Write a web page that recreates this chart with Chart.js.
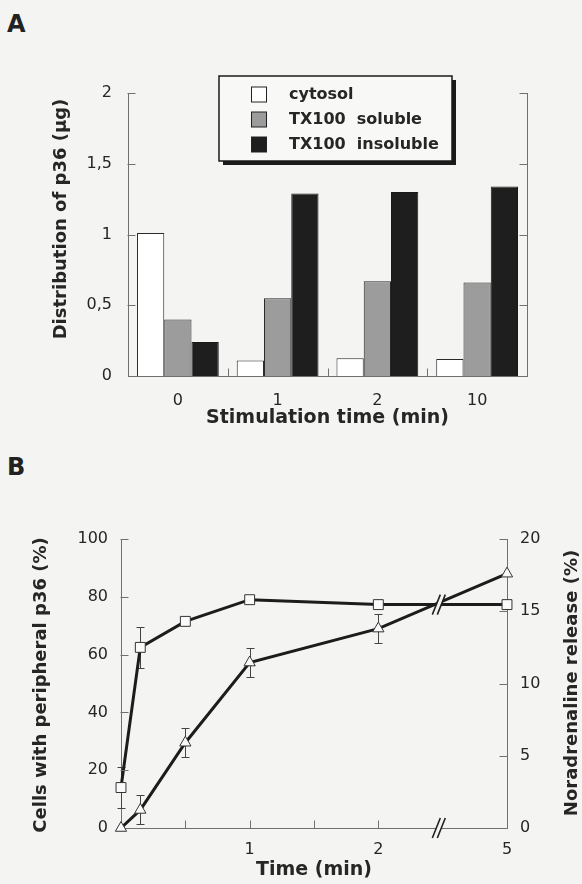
<!DOCTYPE html>
<html>
<head>
<meta charset="utf-8">
<script src="https://cdn.jsdelivr.net/npm/chart.js@4/dist/chart.umd.min.js"></script>
<style>
  html, body { margin: 0; padding: 0; width: 582px; height: 884px; overflow: hidden; background: #f4f4f2; }
  .tag { position: absolute; font-family: 'DejaVu Sans', sans-serif; font-weight: bold; font-size: 24px; line-height: 24px; color: #222; }
  canvas { position: absolute; left: 0; }
</style>
</head>
<body>
<div class="tag" style="left:7px;top:12px">A</div>
<div class="tag" style="left:7px;top:455px">B</div>
<canvas id="chartA" width="582" height="440" style="top:0"></canvas>
<canvas id="chartB" width="582" height="444" style="top:440px"></canvas>
<script>
// ---------- Panel A data ----------
const stimCategories = ['0', '1', '2', '10'];
const cytosol = [1.01, 0.11, 0.125, 0.12];
const txSoluble = [0.40, 0.55, 0.67, 0.66];
const txInsoluble = [0.24, 1.29, 1.30, 1.34];
const seriesLabelsA = ['cytosol', 'TX100  soluble', 'TX100  insoluble'];
const yTicksA = [0.5, 1, 1.5, 2];

// ---------- Panel B data ----------
const timeMin = [0, 0.15, 0.5, 1, 2, 5];
const cellsPeripheral = [14, 62.5, 71.5, 79, 77.3, 77.3];
const cellsErr = [7, 7, 0, 0, 1, 1.5];
const noradRelease = [0, 1.25, 5.9, 11.45, 13.8, 17.6];
const noradErr = [0, 1.0, 1.0, 1.0, 1.0, 0];
const timeTickLabels = ['1', '2', '5'];
const timeTickValues = [1, 2, 5];
const timeMinorTicks = [0.5, 1, 1.5, 2];
const leftTicksB = [20, 40, 60, 80, 100];
const rightTicksB = [5, 10, 15, 20];

// broken time axis: 0..2 min linear, 2..5 min compressed into one unit
const axisPos = t => (t <= 2 ? t : 2 + (t - 2) / 3);
const breakPos = 2.47;

const BG = '#f4f4f2';
const TEXT = '#262626';
const AXIS = '#707070';
const FONT = "'DejaVu Sans', sans-serif";
Chart.defaults.font.family = FONT;
Chart.defaults.color = TEXT;

function makeInnerTicks(items) {
  return {
    id: 'innerTicks',
    afterDraw(chart) {
      const ctx = chart.ctx;
      ctx.save();
      ctx.strokeStyle = AXIS;
      ctx.lineWidth = 1;
      items.forEach(item => {
        const s = chart.scales[item.scale];
        let pixels = [];
        if (item.between) {
          for (let i = 0; i < s.ticks.length - 1; i++) pixels.push((s.getPixelForTick(i) + s.getPixelForTick(i + 1)) / 2);
        } else {
          pixels = item.values.map(v => s.getPixelForValue(v));
        }
        ctx.beginPath();
        pixels.forEach(p => {
          const q = Math.round(p) + 0.5;
          if (s.position === 'left') {
            const x = Math.round(s.right) - 0.5;
            ctx.moveTo(x, q); ctx.lineTo(x + item.length, q);
          } else if (s.position === 'right') {
            const x = Math.round(s.left) + 0.5;
            ctx.moveTo(x, q); ctx.lineTo(x - item.length, q);
          } else {
            const y = Math.round(s.top) + 0.5;
            ctx.moveTo(q, y); ctx.lineTo(q, y - item.length);
          }
        });
        ctx.stroke();
      });
      ctx.restore();
    }
  };
}

function makeSideTitles(items) {
  return {
    id: 'sideTitles',
    afterDraw(chart) {
      const ctx = chart.ctx;
      items.forEach(it => {
        ctx.save();
        ctx.translate(it.x, it.y);
        ctx.rotate(-Math.PI / 2);
        ctx.font = it.font;
        ctx.fillStyle = TEXT;
        ctx.textAlign = 'center';
        ctx.textBaseline = 'middle';
        ctx.fillText(it.text, 0, 0);
        ctx.restore();
      });
    }
  };
}

const boxLegend = {
  id: 'boxLegend',
  afterDraw(chart) {
    const ctx = chart.ctx;
    const bx = 219, by = 76, bw = 233, bh = 85;
    ctx.save();
    ctx.fillStyle = '#1a1a1a';
    ctx.fillRect(bx + 4, by + 4, bw, bh);
    ctx.fillStyle = '#f8f8f6';
    ctx.fillRect(bx, by, bw, bh);
    ctx.strokeStyle = '#1a1a1a';
    ctx.lineWidth = 1.5;
    ctx.strokeRect(bx, by, bw, bh);
    ctx.font = "bold 16px " + FONT;
    ctx.textBaseline = 'middle';
    chart.data.datasets.forEach((ds, i) => {
      const cy = 95 + i * 25;
      ctx.fillStyle = ds.backgroundColor;
      ctx.fillRect(251.5, cy - 8, 15, 15);
      ctx.strokeStyle = '#222';
      ctx.lineWidth = 1;
      ctx.strokeRect(251.5, cy - 8, 15, 15);
      ctx.fillStyle = TEXT;
      ctx.fillText(ds.label, 289, cy);
    });
    ctx.restore();
  }
};

const tickFont = { family: FONT, size: 16 };
const titleFont = { family: FONT, size: 19, weight: 'bold' };
const noGrid = { display: false, drawTicks: false, tickLength: 0 };

// ---------------- Chart A ----------------
new Chart(document.getElementById('chartA'), {
  type: 'bar',
  data: {
    labels: stimCategories,
    datasets: [
      { label: seriesLabelsA[0], data: cytosol, backgroundColor: '#ffffff', borderColor: '#2a2a2a', borderWidth: 1 },
      { label: seriesLabelsA[1], data: txSoluble, backgroundColor: '#9c9c9c', borderColor: '#2a2a2a', borderWidth: 1 },
      { label: seriesLabelsA[2], data: txInsoluble, backgroundColor: '#1e1e1e', borderColor: '#1a1a1a', borderWidth: 1 }
    ]
  },
  options: {
    responsive: false,
    animation: false,
    devicePixelRatio: 1,
    layout: { padding: { top: 93, left: 0, right: 0, bottom: 0 } },
    datasets: { bar: { categoryPercentage: 0.82, barPercentage: 1.0 } },
    plugins: { legend: { display: false }, title: { display: false }, tooltip: { enabled: false } },
    scales: {
      x: {
        grid: noGrid,
        border: { display: true, color: AXIS, width: 1 },
        ticks: { font: tickFont, color: TEXT, padding: 15 },
        title: { display: true, text: 'Stimulation time (min)', font: titleFont, color: TEXT, padding: { top: 0, bottom: 10.6 } },
        afterFit: s => { s.height = 64; }
      },
      y: {
        position: 'left', min: 0, max: 2,
        grid: noGrid,
        border: { display: true, color: AXIS, width: 1 },
        ticks: { stepSize: 0.5, font: tickFont, color: TEXT, padding: 16, callback: v => String(v).replace('.', ',') },
        afterFit: s => { s.width = 128; }
      },
      y2: {
        position: 'right', min: 0, max: 2,
        grid: noGrid,
        border: { display: true, color: AXIS, width: 1 },
        ticks: { display: false },
        afterFit: s => { s.width = 55; }
      }
    }
  },
  plugins: [
    makeInnerTicks([
      { scale: 'y', values: yTicksA, length: 8 },
      { scale: 'y2', values: yTicksA, length: 8 },
      { scale: 'x', between: true, length: 8 }
    ]),
    makeSideTitles([{ text: 'Distribution of p36 (μg)', x: 61, y: 219, font: 'bold 18px ' + FONT }]),
    boxLegend
  ]
});

// ---------------- Chart B ----------------
const errorBars = {
  id: 'errorBars',
  beforeDatasetsDraw(chart) {
    const ctx = chart.ctx;
    ctx.save();
    ctx.strokeStyle = '#444';
    ctx.lineWidth = 1;
    chart.data.datasets.forEach((ds, di) => {
      if (!ds.errors) return;
      const meta = chart.getDatasetMeta(di);
      const ys = chart.scales[ds.yAxisID];
      meta.data.forEach((pt, i) => {
        const e = ds.errors[i];
        if (!e) return;
        const v = ds.data[i].y;
        const top = Math.round(ys.getPixelForValue(v + e)) + 0.5;
        const bot = Math.round(ys.getPixelForValue(v - e)) + 0.5;
        const x = Math.round(pt.x) + 0.5;
        ctx.beginPath();
        ctx.moveTo(x, top); ctx.lineTo(x, bot);
        ctx.moveTo(x - 4, top); ctx.lineTo(x + 4, top);
        ctx.moveTo(x - 4, bot); ctx.lineTo(x + 4, bot);
        ctx.stroke();
      });
    });
    ctx.restore();
  }
};

function drawBreak(ctx, cx, cy) {
  const hx = 4, hy = 10, gap = 5;
  ctx.save();
  ctx.fillStyle = BG;
  ctx.beginPath();
  ctx.moveTo(cx - gap / 2 - hx, cy + hy);
  ctx.lineTo(cx - gap / 2 + hx, cy - hy);
  ctx.lineTo(cx + gap / 2 + hx, cy - hy);
  ctx.lineTo(cx + gap / 2 - hx, cy + hy);
  ctx.closePath();
  ctx.fill();
  ctx.strokeStyle = '#222';
  ctx.lineWidth = 1.6;
  ctx.beginPath();
  ctx.moveTo(cx - gap / 2 - hx, cy + hy); ctx.lineTo(cx - gap / 2 + hx, cy - hy);
  ctx.moveTo(cx + gap / 2 - hx, cy + hy); ctx.lineTo(cx + gap / 2 + hx, cy - hy);
  ctx.stroke();
  ctx.restore();
}

const axisBreaks = {
  id: 'axisBreaks',
  afterDraw(chart) {
    const xs = chart.scales.x, ys = chart.scales.y;
    const cx = xs.getPixelForValue(breakPos);
    drawBreak(chart.ctx, cx, ys.bottom);
    // break on the data lines, at the interpolated value of the 2 -> 5 min segment
    const x0 = axisPos(timeMin[4]), x1 = axisPos(timeMin[5]);
    const f = (breakPos - x0) / (x1 - x0);
    const v = cellsPeripheral[4] + f * (cellsPeripheral[5] - cellsPeripheral[4]);
    drawBreak(chart.ctx, cx, ys.getPixelForValue(v));
  }
};

new Chart(document.getElementById('chartB'), {
  type: 'line',
  data: {
    datasets: [
      {
        label: 'Cells with peripheral p36 (%)',
        data: timeMin.map((t, i) => ({ x: axisPos(t), y: cellsPeripheral[i] })),
        errors: cellsErr,
        yAxisID: 'y',
        borderColor: '#1c1c1c', borderWidth: 3, tension: 0,
        pointStyle: 'rect', pointRadius: 7, pointBackgroundColor: '#fafafa', pointBorderColor: '#333', pointBorderWidth: 1,
        clip: false
      },
      {
        label: 'Noradrenaline release (%)',
        data: timeMin.map((t, i) => ({ x: axisPos(t), y: noradRelease[i] })),
        errors: noradErr,
        yAxisID: 'y2',
        borderColor: '#1c1c1c', borderWidth: 3, tension: 0,
        pointStyle: 'triangle', pointRadius: 6.5, pointBackgroundColor: '#fafafa', pointBorderColor: '#333', pointBorderWidth: 1,
        clip: false
      }
    ]
  },
  options: {
    responsive: false,
    animation: false,
    devicePixelRatio: 1,
    layout: { padding: { top: 99, left: 0, right: 0, bottom: 0 } },
    plugins: { legend: { display: false }, title: { display: false }, tooltip: { enabled: false } },
    scales: {
      x: {
        type: 'linear', position: 'bottom', min: 0, max: axisPos(5),
        grid: noGrid,
        border: { display: true, color: AXIS, width: 1 },
        afterBuildTicks: s => { s.ticks = timeTickValues.map(t => ({ value: axisPos(t) })); },
        ticks: { font: tickFont, color: TEXT, padding: 12.5, callback: (v, i) => timeTickLabels[i] },
        title: { display: true, text: 'Time (min)', font: titleFont, color: TEXT, padding: { top: 0, bottom: 2.6 } },
        afterFit: s => { s.height = 56; }
      },
      y: {
        position: 'left', min: 0, max: 100,
        grid: noGrid,
        border: { display: true, color: AXIS, width: 1 },
        ticks: { stepSize: 20, font: tickFont, color: TEXT, padding: 13 },
        afterFit: s => { s.width = 121; }
      },
      y2: {
        position: 'right', min: 0, max: 20,
        grid: noGrid,
        border: { display: true, color: AXIS, width: 1 },
        ticks: { stepSize: 5, font: tickFont, color: TEXT, padding: 13 },
        afterFit: s => { s.width = 75; }
      }
    }
  },
  plugins: [
    errorBars,
    makeInnerTicks([
      { scale: 'y', values: leftTicksB, length: 8 },
      { scale: 'y2', values: rightTicksB, length: 8 },
      { scale: 'x', values: timeMinorTicks, length: 8 }
    ]),
    axisBreaks,
    makeSideTitles([
      { text: 'Cells with peripheral p36 (%)', x: 41, y: 245, font: 'bold 18px ' + FONT },
      { text: 'Noradrenaline release (%)', x: 572, y: 243, font: 'bold 18px ' + FONT }
    ])
  ]
});
</script>
</body>
</html>
